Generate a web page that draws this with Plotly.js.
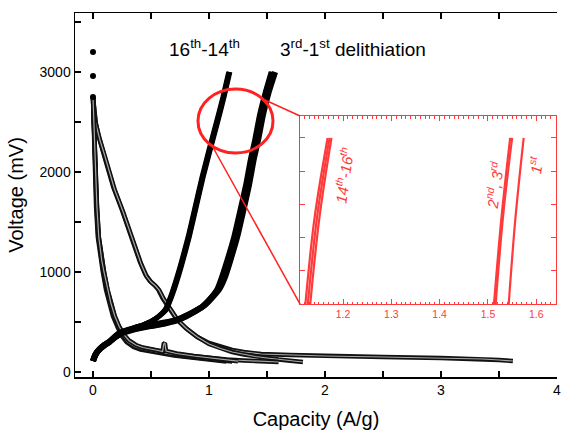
<!DOCTYPE html>
<html>
<head>
<meta charset="utf-8">
<script src="https://cdn.plot.ly/plotly-3.0.1.min.js"></script>
<style>html,body{margin:0;padding:0;background:#fff;}#chart{width:562px;height:430px;}</style>
</head>
<body>
<div id="chart"></div>
<script>
// ---------- main chart data (Capacity A/g, Voltage mV) ----------
// lithiation (discharge) curves
const capD1  = [0.0, 0.005, 0.01, 0.02, 0.05, 0.09, 0.175, 0.25, 0.33, 0.405, 0.45, 0.49, 0.53, 0.56, 0.6, 0.66, 0.72, 0.8, 0.9, 1.0, 1.1, 1.2, 1.3, 1.45, 1.7, 2.0, 2.5, 3.0, 3.36, 3.5, 3.62];
const voltD1 = [2750, 2650, 2580, 2510, 2350, 2190, 1850, 1620, 1350, 1100, 980, 910, 870, 830, 740, 630, 530, 440, 350, 290, 250, 220, 200, 180, 170, 160, 150, 140, 130, 120, 110];
const capD2  = [0.0, 0.012, 0.025, 0.06, 0.1, 0.185, 0.26, 0.34, 0.415, 0.46, 0.5, 0.54, 0.57, 0.61, 0.67, 0.73, 0.81, 0.9, 1.0, 1.1, 1.2, 1.3, 1.4, 1.5, 1.6, 1.7, 1.81];
const voltD2 = [2750, 2560, 2480, 2320, 2170, 1830, 1600, 1330, 1080, 960, 900, 860, 820, 730, 620, 520, 430, 350, 280, 235, 200, 175, 155, 140, 125, 112, 100];
const capD3  = [0.0, 0.008, 0.015, 0.022, 0.035, 0.05, 0.075, 0.095, 0.125, 0.152, 0.185, 0.225, 0.265, 0.31, 0.37, 0.43, 0.55, 0.7, 0.85, 1.0, 1.15, 1.3, 1.45, 1.6];
const voltD3 = [2750, 2500, 2200, 1900, 1650, 1350, 1120, 1000, 820, 690, 560, 450, 370, 310, 265, 240, 210, 180, 160, 140, 125, 115, 108, 100];
const capD14  = [0.0, 0.004, 0.01, 0.016, 0.027, 0.042, 0.065, 0.085, 0.113, 0.14, 0.172, 0.212, 0.25, 0.29, 0.35, 0.41, 0.55, 0.7, 0.85, 1.0, 1.1, 1.15];
const voltD14 = [2750, 2500, 2200, 1900, 1650, 1350, 1120, 1000, 820, 690, 560, 450, 360, 300, 250, 225, 195, 165, 145, 125, 112, 105];
const capD15  = [0.0, 0.006, 0.012, 0.019, 0.031, 0.046, 0.07, 0.09, 0.12, 0.147, 0.18, 0.22, 0.26, 0.3, 0.36, 0.42, 0.55, 0.71, 0.85, 0.99, 1.1, 1.2];
const voltD15 = [2750, 2500, 2200, 1900, 1650, 1350, 1120, 1000, 820, 690, 560, 450, 360, 300, 255, 230, 200, 170, 150, 130, 115, 105];
const capD16  = [0.0, 0.008, 0.014, 0.021, 0.034, 0.05, 0.075, 0.095, 0.126, 0.154, 0.188, 0.228, 0.268, 0.31, 0.37, 0.43, 0.56, 0.6, 0.61, 0.62, 0.63, 0.72, 0.87, 1.0, 1.12, 1.25];
const voltD16 = [2750, 2500, 2200, 1900, 1650, 1350, 1120, 1000, 820, 690, 560, 450, 370, 315, 270, 245, 215, 205, 280, 290, 210, 185, 160, 140, 122, 108];
// delithiation (charge) curves
const capC16  = [0.0, 0.02, 0.05, 0.1, 0.14, 0.2, 0.27, 0.35, 0.43, 0.5, 0.56, 0.62, 0.68, 0.75, 0.82, 0.88, 0.94, 1.0, 1.06, 1.12, 1.17];
const voltC16 = [110, 170, 220, 270, 300, 350, 400, 440, 470, 505, 550, 620, 790, 1050, 1350, 1650, 1950, 2220, 2480, 2750, 3000];
const capC15  = [0.0, 0.02, 0.05, 0.1, 0.14, 0.2, 0.27, 0.35, 0.43, 0.5, 0.56, 0.625, 0.685, 0.755, 0.825, 0.885, 0.945, 1.005, 1.065, 1.125, 1.175];
const voltC15 = [110, 170, 220, 270, 300, 350, 400, 440, 470, 505, 550, 620, 790, 1050, 1350, 1650, 1950, 2220, 2480, 2750, 3000];
const capC14  = [0.0, 0.02, 0.05, 0.1, 0.14, 0.2, 0.27, 0.35, 0.43, 0.5, 0.56, 0.63, 0.69, 0.76, 0.83, 0.89, 0.95, 1.01, 1.07, 1.13, 1.18];
const voltC14 = [110, 170, 220, 270, 300, 350, 400, 440, 470, 505, 550, 620, 790, 1050, 1350, 1650, 1950, 2220, 2480, 2750, 3000];
const capC3  = [0.0, 0.02, 0.05, 0.1, 0.14, 0.22, 0.35, 0.5, 0.62, 0.71, 0.8, 0.88, 0.94, 1.01, 1.07, 1.11, 1.16, 1.22, 1.27, 1.32, 1.36, 1.4, 1.44, 1.49, 1.54];
const voltC3 = [110, 170, 220, 270, 300, 375, 425, 460, 485, 510, 555, 605, 650, 730, 820, 940, 1120, 1360, 1610, 1870, 2120, 2330, 2570, 2800, 3000];
const capC2  = [0.0, 0.02, 0.05, 0.1, 0.14, 0.22, 0.35, 0.5, 0.62, 0.71, 0.8, 0.88, 0.945, 1.015, 1.075, 1.12, 1.17, 1.23, 1.28, 1.33, 1.37, 1.41, 1.45, 1.5, 1.55];
const voltC2 = [110, 170, 220, 270, 300, 380, 430, 465, 490, 515, 560, 610, 655, 735, 825, 940, 1120, 1360, 1610, 1870, 2120, 2330, 2570, 2800, 3000];
const capC1  = [0.0, 0.02, 0.05, 0.1, 0.14, 0.22, 0.35, 0.5, 0.62, 0.72, 0.81, 0.89, 0.955, 1.025, 1.09, 1.135, 1.185, 1.245, 1.295, 1.345, 1.385, 1.425, 1.465, 1.515, 1.57];
const voltC1 = [110, 170, 220, 270, 300, 385, 435, 470, 495, 520, 565, 615, 660, 740, 830, 940, 1120, 1360, 1610, 1870, 2120, 2330, 2570, 2800, 3000];
// open-circuit starting points
const capStart  = [0, 0, 0];
const voltStart = [3200, 2960, 2750];

// ---------- inset data ----------
const capI16  = [1.122, 1.141, 1.168];
const voltI16 = [2500, 2760, 3000];
const capI15  = [1.127, 1.146, 1.172];
const voltI15 = [2500, 2760, 3000];
const capI14  = [1.132, 1.151, 1.176];
const voltI14 = [2500, 2760, 3000];
const capI3  = [1.5125, 1.528, 1.546];
const voltI3 = [2500, 2760, 3000];
const capI2  = [1.516, 1.531, 1.55];
const voltI2 = [2500, 2760, 3000];
const capI1  = [1.543, 1.557, 1.574];
const voltI1 = [2500, 2760, 3000];

// ---------- axis ticks ----------
const xTickVals = [0, 1, 2, 3, 4];
const yTickVals = [0, 1000, 2000, 3000];
const insetXTickVals = [1.2, 1.3, 1.4, 1.5, 1.6];
const insetXTickText = ['1.2', '1.3', '1.4', '1.5', '1.6'];

const XR = [-0.155, 4];
const YR = [-50, 3590];
const RED = '#ff2020';
const INSET_RED = '#ff3a3a';

const traces = [];
function tube(x, y) {
  traces.push({x: x, y: y, mode: 'lines', line: {color: '#111', width: 4.5}, hoverinfo: 'skip', showlegend: false});
  traces.push({x: x, y: y, mode: 'lines', line: {color: '#a8a8a8', width: 1.2}, hoverinfo: 'skip', showlegend: false});
}
function solid(x, y, w) {
  traces.push({x: x, y: y, mode: 'lines', line: {color: '#000', width: w, shape: 'spline', smoothing: 0.5}, hoverinfo: 'skip', showlegend: false});
}
[[capD1, voltD1], [capD2, voltD2], [capD3, voltD3], [capD14, voltD14], [capD15, voltD15], [capD16, voltD16]].forEach(p => tube(p[0], p[1]));
[[capC16, voltC16], [capC15, voltC15], [capC14, voltC14]].forEach(p => solid(p[0], p[1], 5));
[[capC3, voltC3], [capC2, voltC2], [capC1, voltC1]].forEach(p => solid(p[0], p[1], 6));
traces.push({x: capStart, y: voltStart, mode: 'markers', marker: {color: '#000', size: 6}, hoverinfo: 'skip', showlegend: false});

[[capI16, voltI16], [capI15, voltI15], [capI14, voltI14], [capI3, voltI3], [capI2, voltI2], [capI1, voltI1]].forEach(p => {
  traces.push({x: p[0], y: p[1], xaxis: 'x2', yaxis: 'y2', mode: 'lines', line: {color: INSET_RED, width: 2.2, shape: 'spline'}, hoverinfo: 'skip', showlegend: false});
});

// inset placement (paper coords)
const insetX = [0.467, 0.998];
const insetY = [0.2005, 0.717];
function toPaperX(v) { return (v - XR[0]) / (XR[1] - XR[0]); }
function toPaperY(v) { return (v - YR[0]) / (YR[1] - YR[0]); }

const font = 'Liberation Sans, Arial, sans-serif';
const layout = {
  width: 562, height: 430,
  margin: {l: 75, r: 5, t: 13, b: 53},
  paper_bgcolor: '#fff', plot_bgcolor: 'rgba(0,0,0,0)',
  font: {family: font, color: '#000', size: 14},
  showlegend: false,
  xaxis: {
    range: XR, tickmode: 'array', tickvals: xTickVals,
    ticks: 'inside', ticklen: 6, tickwidth: 1.5, tickcolor: '#000',
    minor: {dtick: 0.5, tick0: 0, ticks: 'inside', ticklen: 6, tickwidth: 1.5, tickcolor: '#000'},
    showline: true, linewidth: 1.5, linecolor: '#000', mirror: 'allticks',
    showgrid: false, zeroline: false, tickfont: {size: 14, family: font},
    title: {text: 'Capacity (A/g)', font: {size: 20, family: font}, standoff: 18}
  },
  yaxis: {
    range: YR, tickmode: 'array', tickvals: yTickVals,
    ticks: 'inside', ticklen: 6, tickwidth: 1.5, tickcolor: '#000',
    minor: {dtick: 500, tick0: 0, ticks: 'inside', ticklen: 6, tickwidth: 1.5, tickcolor: '#000'},
    showline: true, linewidth: 1.5, linecolor: '#000', mirror: false,
    showgrid: false, zeroline: false, tickfont: {size: 14, family: font},
    title: {text: 'Voltage (mV)', font: {size: 20, family: font}, standoff: 10}
  },
  xaxis2: {
    domain: insetX, anchor: 'y2', range: [1.111, 1.641],
    tickmode: 'array', tickvals: insetXTickVals, ticktext: insetXTickText,
    ticks: 'inside', ticklen: 5, tickwidth: 1, tickcolor: INSET_RED,
    minor: {dtick: 0.01, tick0: 1.1, ticks: 'inside', ticklen: 2.5, tickcolor: INSET_RED, tickwidth: 1},
    showline: true, linewidth: 1.2, linecolor: INSET_RED, mirror: 'allticks',
    showgrid: false, zeroline: false, tickfont: {size: 10.5, color: INSET_RED, family: font}
  },
  yaxis2: {
    domain: insetY, anchor: 'x2', range: [2500, 3066], dtick: 100, tick0: 2500,
    ticks: 'inside', ticklen: 5, tickwidth: 1, tickcolor: INSET_RED, showticklabels: false,
    showline: true, linewidth: 1.2, linecolor: INSET_RED, mirror: 'allticks',
    showgrid: false, zeroline: false
  },
  shapes: [
    {type: 'circle', xref: 'x', yref: 'y', x0: 0.905, x1: 1.552, y0: 2190, y1: 2830, line: {color: RED, width: 3}},
    {type: 'line', xref: 'paper', yref: 'paper', x0: toPaperX(1.483), y0: toPaperY(2720), x1: insetX[0], y1: insetY[1], line: {color: RED, width: 1.5}},
    {type: 'line', xref: 'paper', yref: 'paper', x0: toPaperX(1.023), y0: toPaperY(2270), x1: insetX[0], y1: insetY[0], line: {color: RED, width: 1.5}}
  ],
  annotations: [
    {xref: 'x', yref: 'y', x: 0.638, y: 3240, xanchor: 'left', yanchor: 'middle', showarrow: false,
     text: '16<sup>th</sup>-14<sup>th</sup>', font: {size: 19, family: font}},
    {xref: 'x', yref: 'y', x: 1.595, y: 3240, xanchor: 'left', yanchor: 'middle', showarrow: false,
     text: '3<sup>rd</sup>-1<sup>st</sup> delithiation', font: {size: 19, family: font}},
    {xref: 'x2', yref: 'y2', x: 1.2, y: 2888, showarrow: false, textangle: -82,
     text: '<i>14<sup>th</sup>-16<sup>th</sup></i>', font: {size: 15, color: INSET_RED, family: font}},
    {xref: 'x2', yref: 'y2', x: 1.512, y: 2858, showarrow: false, textangle: -82,
     text: '<i>2<sup>nd</sup>, 3<sup>rd</sup></i>', font: {size: 15, color: INSET_RED, family: font}},
    {xref: 'x2', yref: 'y2', x: 1.599, y: 2919, showarrow: false, textangle: -82,
     text: '<i>1<sup>st</sup></i>', font: {size: 15, color: INSET_RED, family: font}}
  ]
};

Plotly.newPlot('chart', traces, layout, {displayModeBar: false, staticPlot: true});
</script>
</body>
</html>
